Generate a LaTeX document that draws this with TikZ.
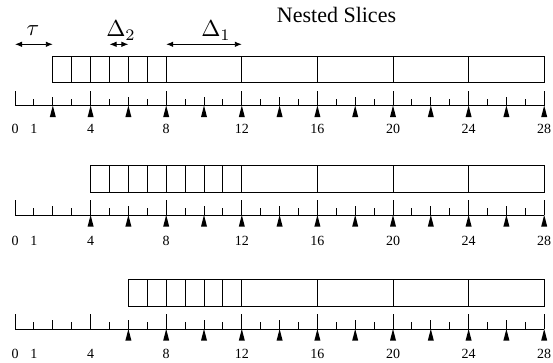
\documentclass[tikz,border=0pt]{standalone}
\usepackage[no-math]{fontspec}
\setmainfont{Liberation Serif}
\usetikzlibrary{arrows.meta}
\newcommand{\biglabel}[1]{\scalebox{2.3}{$#1$}}
\begin{document}
\begin{tikzpicture}[x=1pt,y=-1pt, line width=0.9pt,
  lbl/.style={font=\fontsize{14}{14}\selectfont, anchor=base, inner sep=0pt},
  mathlbl/.style={font=\normalsize, anchor=base, inner sep=0pt},
  titlelbl/.style={font=\fontsize{22}{22}\selectfont, anchor=base, inner sep=0pt},
  dimarrow/.style={{Latex[length=7pt,width=5.5pt]}-{Latex[length=7pt,width=5.5pt]}, line width=0.9pt},
  tickline/.style={line width=0.9pt},
  boxline/.style={line width=0.9pt}]
\useasboundingbox (0,0) rectangle (553,362);
\def\xo{15}
\def\U{18.9}
% title
\node[titlelbl] (title) at (336.5,22.2) {Nested Slices};
% dimension arrows
\coordinate (tauA) at (\xo,44.3);
\coordinate (tauB) at (\xo+2*\U,44.3);
\draw[dimarrow] (tauA) -- (tauB);
\node[mathlbl] (tau) at (33,35.5) {\biglabel{\tau}};
\coordinate (dtwoA) at (\xo+5*\U,44.3);
\coordinate (dtwoB) at (\xo+6*\U,44.3);
\draw[dimarrow] (dtwoA) -- (dtwoB);
\node[mathlbl] (dtwo) at (121,36.7) {\biglabel{\Delta_2}};
\coordinate (doneA) at (\xo+8*\U,44.3);
\coordinate (doneB) at (\xo+12*\U,44.3);
\draw[dimarrow] (doneA) -- (doneB);
\node[mathlbl] (done) at (216,36.7) {\biglabel{\Delta_1}};
% rows
\foreach \A/\s/\f/\B in {105.5/2/8/133.5, 215/4/12/245.5, 329/6/12/358.5} {
  \draw[boxline] (\xo+\s*\U, \A-49.5) rectangle (\xo+28*\U, \A-23);
  \pgfmathtruncatemacro\sa{\s+1}
  \pgfmathtruncatemacro\sb{\s+2}
  \foreach \i in {\sa,...,\f,12,16,20,24}
    \draw[boxline] (\xo+\i*\U, \A-49.5) -- (\xo+\i*\U, \A-23);
  \draw[tickline] (\xo, \A) -- (\xo+28*\U, \A);
  \foreach \u in {0,...,28} {
    \pgfmathsetmacro\tl{mod(\u,4)==0 ? 15 : (mod(\u,2)==0 ? 9 : 7)}
    \draw[tickline] (\xo+\u*\U, \A) -- ++(0,-\tl);
  }
  \foreach \u in {\s,\sb,...,28}
    \fill (\xo+\u*\U, \A) -- ++(-3,11.5) -- ++(6,0) -- cycle;
  \foreach \u in {0,1,4,8,12,16,20,24,28}
    \node[lbl] at (\xo+\u*\U, \B) {\u};
}
\end{tikzpicture}
\end{document}
